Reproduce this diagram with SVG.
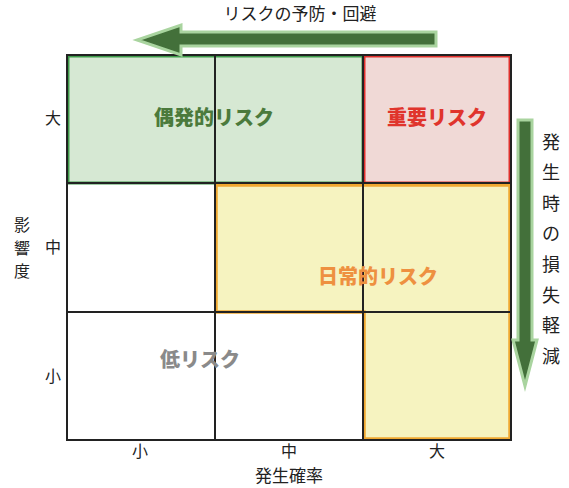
<svg xmlns="http://www.w3.org/2000/svg" width="569" height="488" viewBox="0 0 569 488">
<style>
text{font-family:"Noto Sans CJK JP","Noto Sans",sans-serif;fill:#222;}
.ax{font-size:16px;text-anchor:middle;}
.zone{font-size:20px;font-weight:900;text-anchor:middle;}
.grid{fill:none;stroke:#222;stroke-width:2;}
.arrow{fill:#43703a;stroke:#a9d49f;stroke-width:3;stroke-linejoin:miter;}
</style>
<rect width="569" height="488" fill="#fff"/>
<g id="zone-green">
<rect x="68" y="56" width="295" height="127" fill="#d6e8d3" stroke="#3e9a4a" stroke-width="3"/>
</g>
<g id="zone-red">
<rect x="364" y="56" width="146" height="127" fill="#f0d9d6" stroke="#e0302c" stroke-width="3"/>
</g>
<g id="zone-yellow">
<path d="M216 185 H510 V439 H364 V312 H216 Z" fill="#f6f3c0" stroke="#f0a830" stroke-width="3.5"/>
</g>
<g id="grid">
<rect class="grid" x="67" y="55" width="444" height="385"/>
<path class="grid" d="M215 55 V440 M363 55 V440 M67 183 H511 M67 312 H511"/>
</g>
<g id="labels">
<text class="zone" x="214" y="125" style="fill:#4b7a3c">偶発的リスク</text>
<text class="zone" x="437" y="125" style="fill:#e0342c">重要リスク</text>
<text class="zone" x="378" y="284" style="fill:#ee9040">日常的リスク</text>
<text class="zone" x="200" y="367" style="fill:#8a8a8a">低リスク</text>
</g>
<g id="axis-y">
<text class="ax" x="53" y="124">大</text>
<text class="ax" x="53" y="253">中</text>
<text class="ax" x="53" y="382">小</text>
<text class="ax" x="22" y="231">影</text>
<text class="ax" x="22" y="254">響</text>
<text class="ax" x="22" y="277">度</text>
</g>
<g id="axis-x">
<text class="ax" x="140" y="457">小</text>
<text class="ax" x="289" y="457">中</text>
<text class="ax" x="437" y="457">大</text>
<text class="ax" x="289" y="482" style="font-size:17px">発生確率</text>
</g>
<g id="connectors">
<path class="arrow" d="M436 32 H181 V25 L137 40 L181 55 V46 H436 Z"/>
<path class="arrow" d="M518 120 H532 V340 H537 L525 386 L513 340 H518 Z"/>
</g>
<g id="arrow-labels">
<text class="ax" x="300" y="20" style="font-size:17px">リスクの予防・回避</text>
<text class="ax" x="551" y="149" style="font-size:18px">発</text>
<text class="ax" x="551" y="179" style="font-size:18px">生</text>
<text class="ax" x="551" y="210" style="font-size:18px">時</text>
<text class="ax" x="551" y="240" style="font-size:18px">の</text>
<text class="ax" x="551" y="271" style="font-size:18px">損</text>
<text class="ax" x="551" y="302" style="font-size:18px">失</text>
<text class="ax" x="551" y="332" style="font-size:18px">軽</text>
<text class="ax" x="551" y="363" style="font-size:18px">減</text>
</g>
</svg>
